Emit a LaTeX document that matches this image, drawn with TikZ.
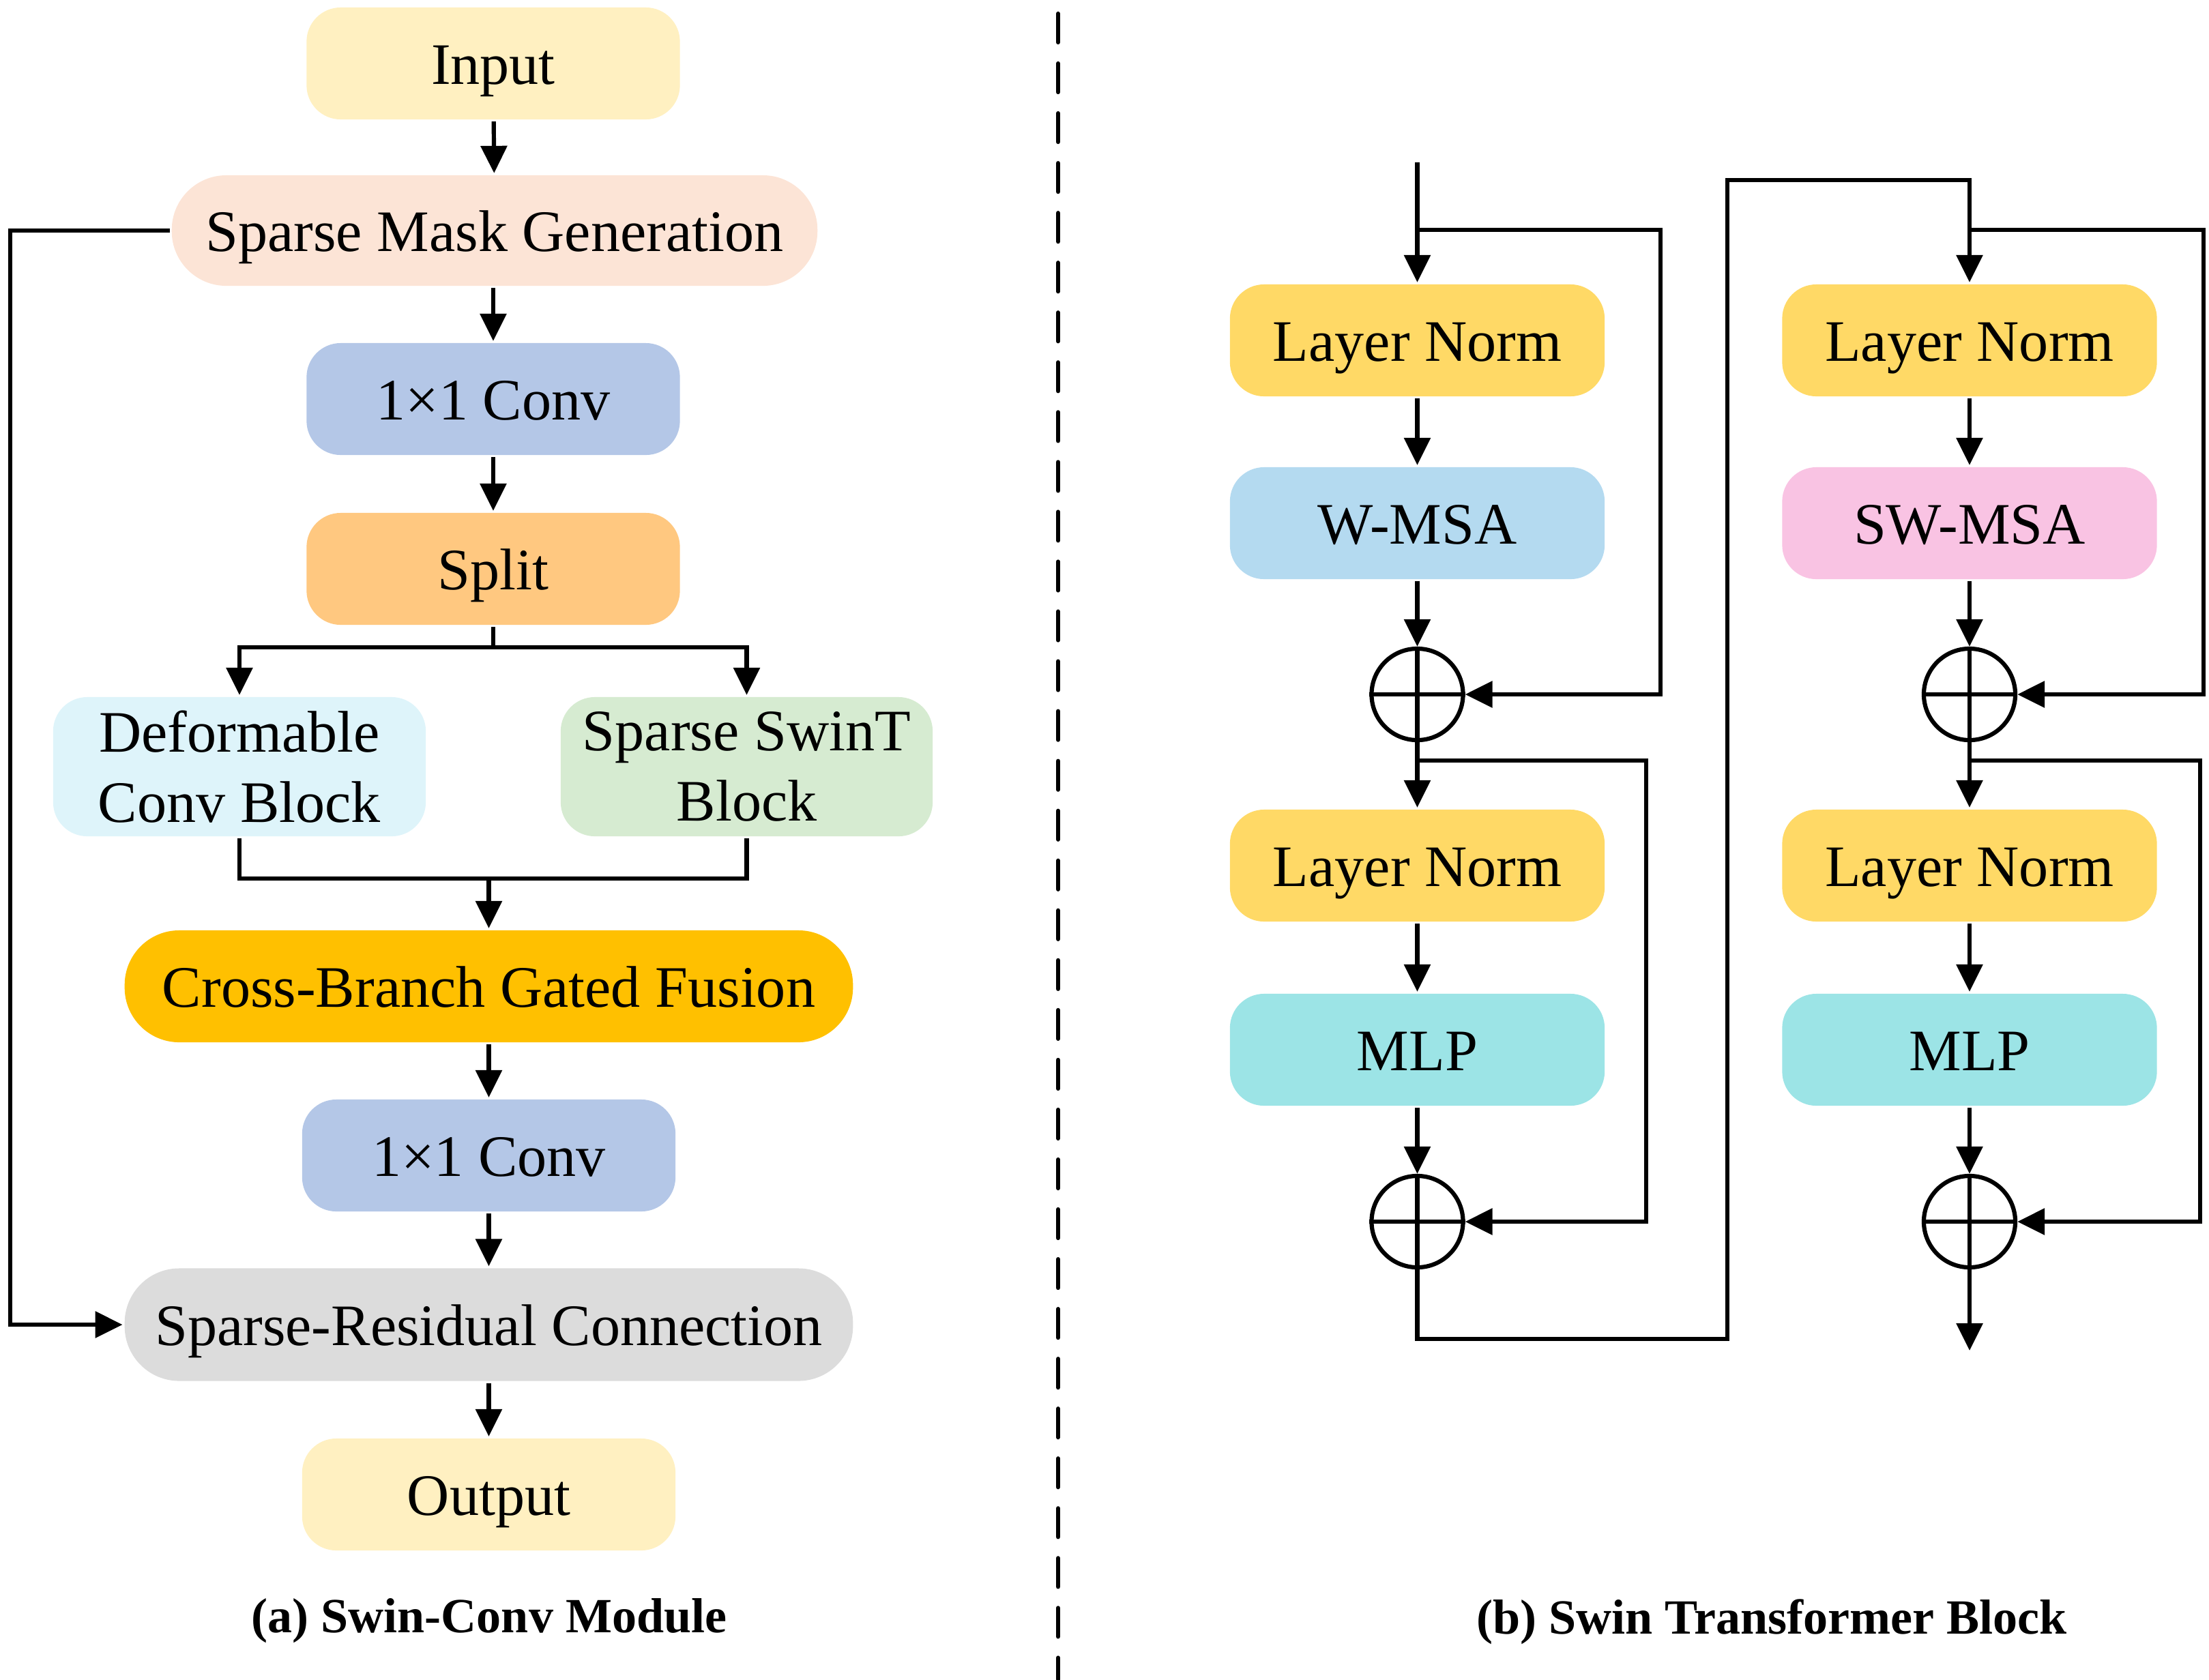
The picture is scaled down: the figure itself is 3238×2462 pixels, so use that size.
\documentclass[tikz,border=0pt]{standalone}
\usepackage{fontspec}
\setmainfont{Liberation Serif}
\usetikzlibrary{arrows.meta,calc}
\definecolor{cInput}{HTML}{FFF0C1}
\definecolor{cSMG}{HTML}{FCE4D6}
\definecolor{cConv}{HTML}{B4C7E7}
\definecolor{cSplit}{HTML}{FFC880}
\definecolor{cDef}{HTML}{DEF4FA}
\definecolor{cSwin}{HTML}{D6EBD1}
\definecolor{cFuse}{HTML}{FFC000}
\definecolor{cSRC}{HTML}{DCDCDC}
\definecolor{cLN}{HTML}{FFD966}
\definecolor{cWMSA}{HTML}{B4DAF0}
\definecolor{cSWMSA}{HTML}{F9C3E3}
\definecolor{cMLP}{HTML}{9CE4E6}
\begin{document}
\begin{tikzpicture}[x=0.01cm,y=-0.01cm, line width=0.062cm,
  >={Triangle[length=0.4cm,width=0.38cm]},
  box/.style={inner sep=0pt, rounded corners=0.5cm, draw=none,
    font=\fontsize{24.5}{29.4}\selectfont, align=center},
  oneline/.style={text height=0.6cm, text depth=0cm},
  pill/.style={box, oneline, rounded corners=0.8cm},
  smallbox/.style={box, oneline, minimum width=5.47cm, minimum height=1.64cm},
  swbox/.style={box, oneline, minimum width=5.49cm, minimum height=1.64cm},
  plus/.style={circle, draw, minimum size=1.34cm, inner sep=0pt},
  captext/.style={font=\bfseries\fontsize{20.5}{24}\selectfont, inner sep=0pt}]
\useasboundingbox (0,0) rectangle (3238,2462);

% ---------- (a) left panel ----------
\node[smallbox, fill=cInput] (in) at (723,93) {Input};
\node[pill, fill=cSMG, minimum width=9.46cm, minimum height=1.62cm] (smg) at (725,338) {Sparse Mask Generation};
\node[smallbox, fill=cConv] (conv1) at (723,585) {1×1 Conv};
\node[smallbox, fill=cSplit] (split) at (723,834) {Split};
\node[box, fill=cDef, minimum width=5.46cm, minimum height=2.04cm] (def) at (351,1124) {Deformable\\Conv Block};
\node[box, fill=cSwin, minimum width=5.45cm, minimum height=2.04cm] (swin) at (1094.5,1124) {Sparse SwinT\\Block};
\node[pill, fill=cFuse, minimum width=10.67cm, minimum height=1.64cm] (fuse) at (716.5,1446) {Cross-Branch Gated Fusion};
\node[smallbox, fill=cConv] (conv2) at (716.5,1694) {1×1 Conv};
\node[pill, fill=cSRC, minimum width=10.67cm, minimum height=1.65cm] (src) at (716.5,1942) {Sparse-Residual Connection};
\node[smallbox, fill=cInput] (out) at (716.5,2191) {Output};
\node[captext] (capa) at (717,2376) {(a) Swin-Conv Module};

\draw[->] (in) -- (smg);
\draw[->] (smg.south -| conv1) -- (conv1);
\draw[->] (conv1) -- (split);
\coordinate (sb) at (723,949);
\draw (split.south) -- (sb);
\draw[->] (sb) -| (def.north);
\draw[->] (sb) -| (swin.north);
\coordinate (mg) at (716.5,1288);
\draw (def.south) -- (def.south |- mg) -- (swin.south |- mg) -- (swin.south);
\draw[->] (mg) -- (fuse.north);
\draw[->] (fuse) -- (conv2);
\draw[->] (conv2) -- (src);
\draw[->] (src) -- (out);
\draw[->] (smg.west) -- (15,338) |- (src.west);

% ---------- dashed separator ----------
\coordinate (dtop) at (1551,20);
\coordinate (dbot) at (1551,2462);
\draw[line cap=round, dash pattern=on 0.42cm off 0.31cm] (dtop) -- (dbot);

% ---------- (b) right panel ----------
\node[swbox, fill=cLN] (ln1) at (2077.5,499) {Layer Norm};
\node[swbox, fill=cWMSA] (wmsa) at (2077.5,767) {W-MSA};
\node[plus] (p1) at (2077.5,1018) {};
\node[swbox, fill=cLN] (ln2) at (2077.5,1269) {Layer Norm};
\node[swbox, fill=cMLP] (mlp1) at (2077.5,1539) {MLP};
\node[plus] (p2) at (2077.5,1791) {};

\node[swbox, fill=cLN] (ln3) at (2887,499) {Layer Norm};
\node[swbox, fill=cSWMSA] (swmsa) at (2887,767) {SW-MSA};
\node[plus] (p3) at (2887,1018) {};
\node[swbox, fill=cLN] (ln4) at (2887,1269) {Layer Norm};
\node[swbox, fill=cMLP] (mlp2) at (2887,1539) {MLP};
\node[plus] (p4) at (2887,1791) {};

\node[captext] (capb) at (2597,2378) {(b) Swin Transformer Block};

\foreach \p in {p1,p2,p3,p4}{
  \draw (\p.north) -- (\p.south) (\p.west) -- (\p.east);
}

% first block
\coordinate (tin) at (2077.5,238);
\draw[->] (tin) -- (ln1.north);
\draw[->] (ln1) -- (wmsa);
\draw[->] (wmsa) -- (p1);
\draw[->] (2077.5,337) -- (2434,337) |- (p1.east);
\draw[->] (p1) -- (ln2);
\draw[->] (ln2) -- (mlp1);
\draw[->] (mlp1) -- (p2);
\draw[->] (2077.5,1115) -- (2413,1115) |- (p2.east);
\draw[->] (p2.south) -- (2077.5,1963) -- (2532,1963) -- (2532,264) -- (2887,264) -- (ln3.north);

% second block
\draw[->] (ln3) -- (swmsa);
\draw[->] (swmsa) -- (p3);
\draw[->] (2887,337) -- (3230,337) |- (p3.east);
\draw[->] (p3) -- (ln4);
\draw[->] (ln4) -- (mlp2);
\draw[->] (mlp2) -- (p4);
\draw[->] (2887,1115) -- (3225,1115) |- (p4.east);
\coordinate (tout) at (2887,1980);
\draw[->] (p4.south) -- (tout);
\end{tikzpicture}
\end{document}
